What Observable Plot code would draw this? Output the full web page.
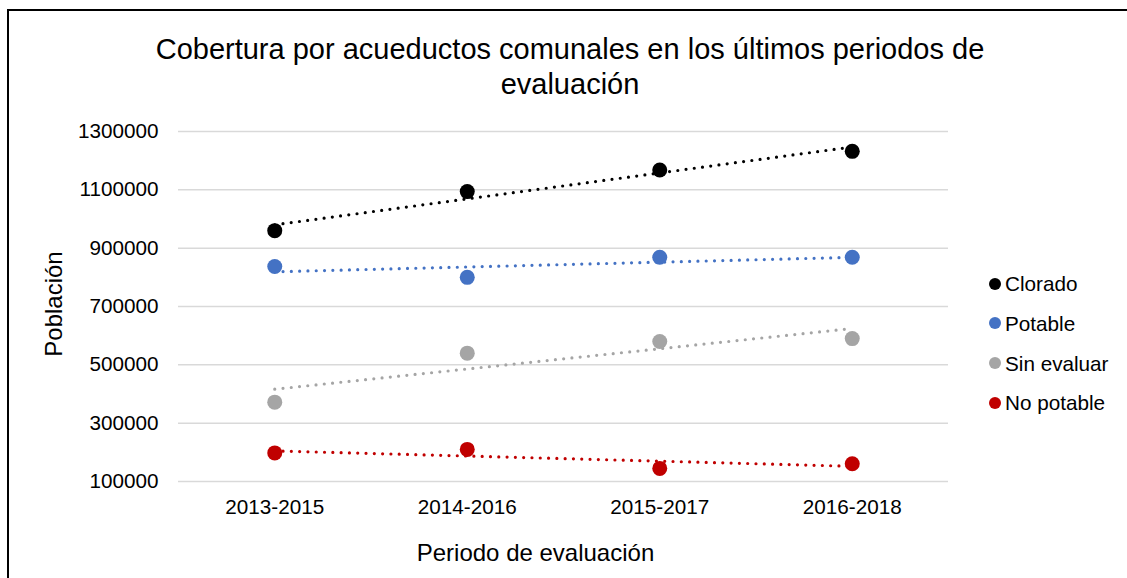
<!DOCTYPE html>
<html>
<head>
<meta charset="utf-8">
<script src="https://cdn.jsdelivr.net/npm/d3@7"></script>
<script src="https://cdn.jsdelivr.net/npm/@observablehq/plot@0.6"></script>
<style>
  html, body { margin: 0; padding: 0; background: #fff; overflow: hidden; }
  body { width: 1127px; height: 578px; position: relative; font-family: "Liberation Sans", Arial, sans-serif; color: #000; }
  #frame { position: absolute; left: 7px; top: 9px; width: 1400px; height: 800px; border: 2px solid #000; box-sizing: border-box; }
  #chart { position: absolute; left: 0; top: 0; }
  #title { position: absolute; left: 0; width: 1140px; top: 32px; text-align: center; font-size: 29px; line-height: 35px; }
  .axtitle { position: absolute; font-size: 24px; line-height: 24px; white-space: nowrap; transform: translate(-50%, -50%); }
  #ytitle { left: 54px; top: 304px; transform: translate(-50%, -50%) rotate(-90deg); }
  #xtitle { left: 535.5px; top: 552.5px; }
  .lg { position: absolute; left: 989px; height: 24px; line-height: 24px; font-size: 20.7px; white-space: nowrap; transform: translateY(-50%); }
  .lg span.sw { display: inline-block; width: 12px; height: 12px; border-radius: 50%; vertical-align: middle; margin-right: 4px; position: relative; top: -2px; }
</style>
</head>
<body>
<div id="frame"></div>
<div id="chart"></div>
<div id="title">Cobertura por acueductos comunales en los últimos periodos de<br>evaluación</div>
<div class="axtitle" id="ytitle">Población</div>
<div class="axtitle" id="xtitle">Periodo de evaluación</div>
<div id="legend"></div>
<script>
const periods = ["2013-2015", "2014-2016", "2015-2017", "2016-2018"];
const seriesNames = ["Clorado", "Potable", "Sin evaluar", "No potable"];
const seriesColors = ["#000000", "#4472C4", "#A5A5A5", "#C00000"];
const clorado = [960000, 1094000, 1168000, 1232000];
const potable = [837000, 800000, 869000, 869000];
const sinEvaluar = [372000, 540000, 580000, 590000];
const noPotable = [198000, 210000, 145000, 161000];
const yTicks = [100000, 300000, 500000, 700000, 900000, 1100000, 1300000];

const valuesBySeries = [clorado, potable, sinEvaluar, noPotable];
const data = [];
seriesNames.forEach((s, k) => {
  valuesBySeries[k].forEach((v, i) => data.push({series: s, i: i + 1, period: periods[i], value: v}));
});

const chart = Plot.plot({
  width: 1127,
  height: 578,
  marginLeft: 178,
  marginRight: 179,
  marginTop: 131,
  marginBottom: 97,
  style: {fontFamily: "'Liberation Sans', Arial, sans-serif", fontSize: "20.7px", color: "#000", background: "transparent", overflow: "visible"},
  x: {type: "linear", domain: [0.5, periods.length + 0.5]},
  y: {domain: [100000, 1300000]},
  color: {domain: seriesNames, range: seriesColors},
  marks: [
    Plot.gridY(yTicks, {stroke: "#d9d9d9", strokeOpacity: 1, strokeWidth: 1.5}),
    Plot.axisY({ticks: yTicks, tickFormat: d3.format("d"), tickSize: 0, tickPadding: 20, label: null, fontSize: "20.7px"}),
    Plot.axisX({ticks: periods.map((p, i) => i + 1), tickFormat: i => periods[i - 1], tickSize: 0, tickPadding: 17.5, label: null, fontSize: "20.7px"}),
    Plot.linearRegressionY(data, {x: "i", y: "value", stroke: "series", z: "series", ci: 0, strokeWidth: 3.2, strokeDasharray: "0 8.3", strokeLinecap: "round"}),
    Plot.dot(data, {x: "i", y: "value", fill: "series", r: 7.5})
  ]
});
document.getElementById("chart").appendChild(chart);

const legend = document.getElementById("legend");
seriesNames.forEach((s, k) => {
  const row = document.createElement("div");
  row.className = "lg";
  row.style.top = (284.3 + k * 39.6) + "px";
  const sw = document.createElement("span");
  sw.className = "sw";
  sw.style.background = seriesColors[k];
  row.appendChild(sw);
  row.appendChild(document.createTextNode(s));
  legend.appendChild(row);
});
</script>
</body>
</html>
